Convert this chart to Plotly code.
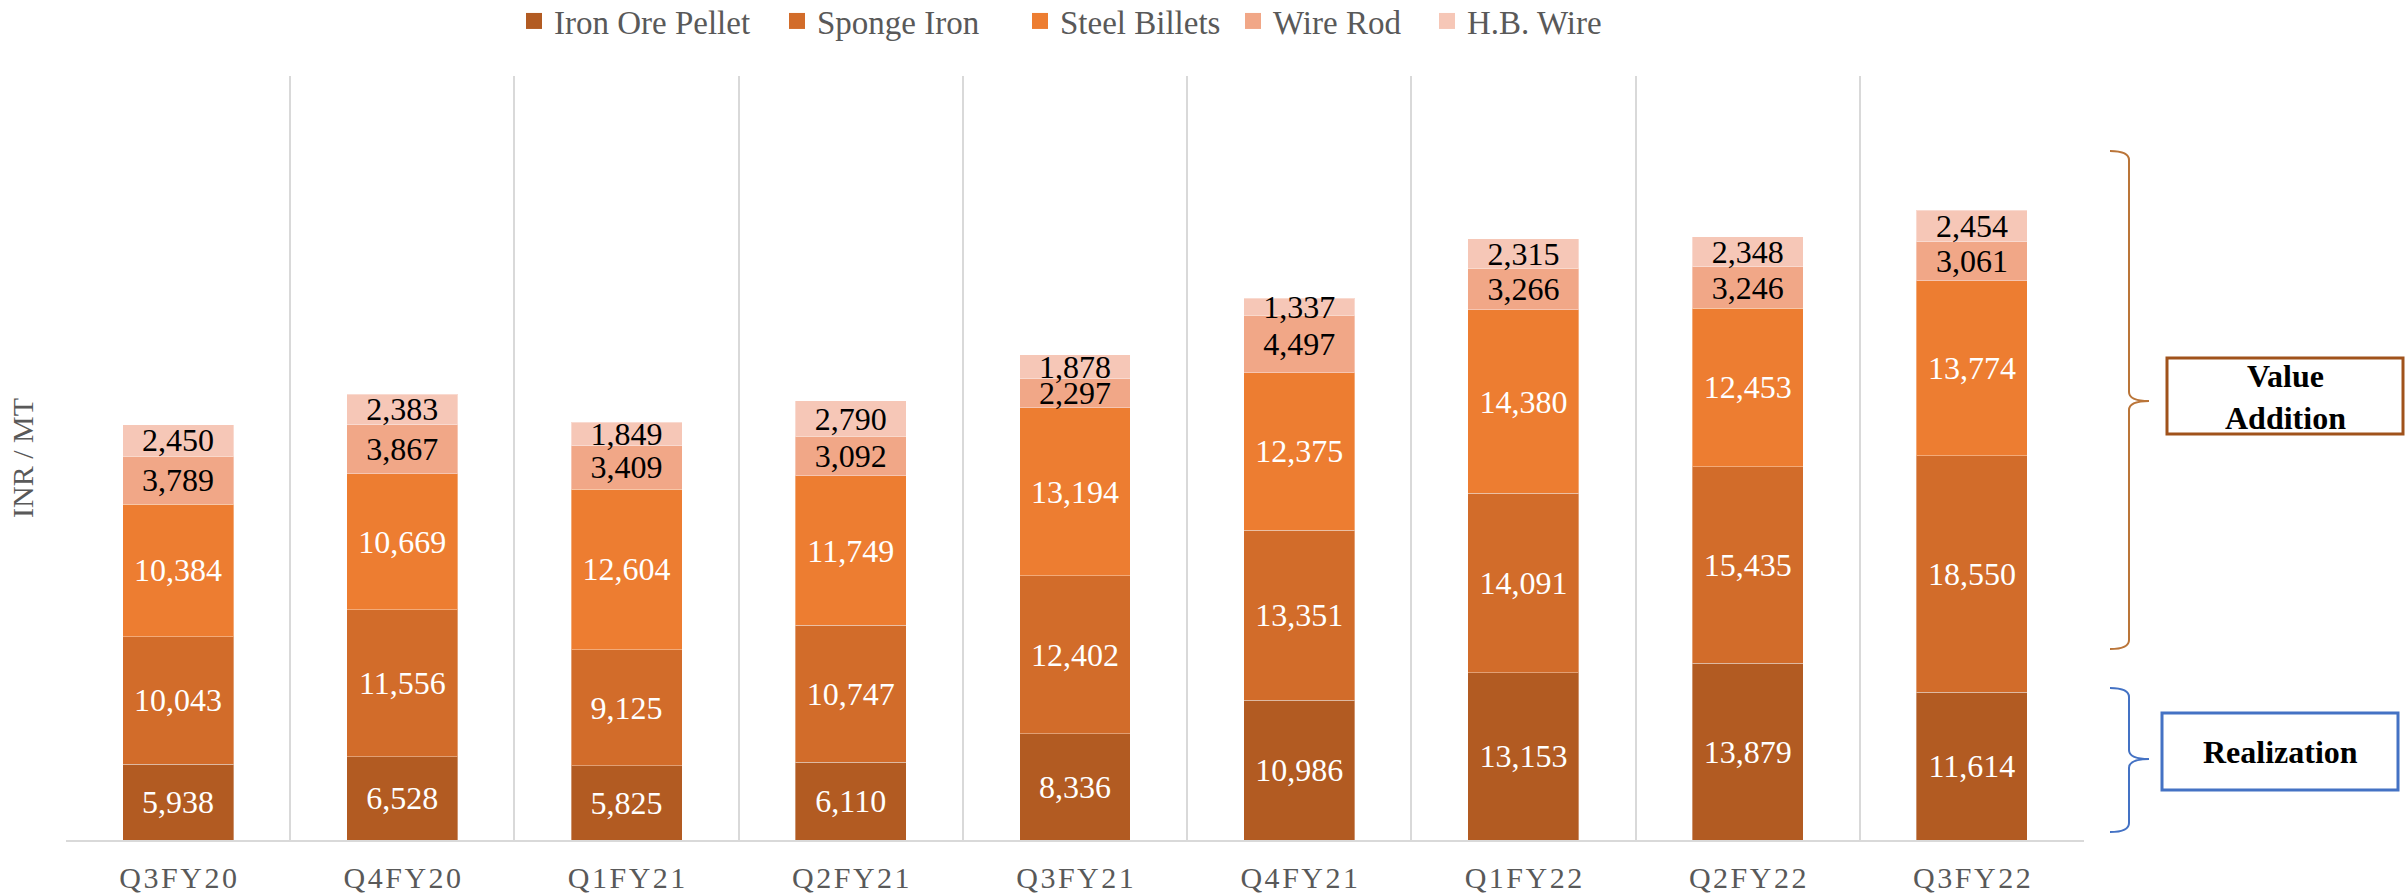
import plotly.graph_objects as go

categories = ["Q3FY20", "Q4FY20", "Q1FY21", "Q2FY21", "Q3FY21", "Q4FY21", "Q1FY22", "Q2FY22", "Q3FY22"]
iron_ore_pellet = [5938, 6528, 5825, 6110, 8336, 10986, 13153, 13879, 11614]
sponge_iron = [10043, 11556, 9125, 10747, 12402, 13351, 14091, 15435, 18550]
steel_billets = [10384, 10669, 12604, 11749, 13194, 12375, 14380, 12453, 13774]
wire_rod = [3789, 3867, 3409, 3092, 2297, 4497, 3266, 3246, 3061]
hb_wire = [2450, 2383, 1849, 2790, 1878, 1337, 2315, 2348, 2454]

series_names = ["Iron Ore Pellet", "Sponge Iron", "Steel Billets", "Wire Rod", "H.B. Wire"]
series_values = [iron_ore_pellet, sponge_iron, steel_billets, wire_rod, hb_wire]
series_colors = ["#B25B22", "#D26C2A", "#ED7D31", "#F1A787", "#F6C7B7"]
label_colors = ["white", "white", "white", "black", "black"]
legend_marker_px = [534, 797, 1040, 1253, 1447]  # legend swatch centres (layout position)

FONT = "Liberation Serif, Times New Roman, serif"
W, H = 2407, 894
L, R, T, B = 66, 2084, 76, 840  # plot area in pixels


def px(x):
    return (x - L) / (R - L)


def py(y):
    return (B - y) / (B - T)


fig = go.Figure()
for name, vals, col, lc in zip(series_names, series_values, series_colors, label_colors):
    fig.add_trace(go.Bar(
        x=categories, y=vals, name=name, showlegend=False,
        marker=dict(color=col, line=dict(color="rgba(255,255,255,0.35)", width=1)),
        texttemplate="%{y:,.0f}", textposition="inside", insidetextanchor="middle",
        textangle=0, textfont=dict(family=FONT, size=32, color=lc),
        hoverinfo="skip",
    ))

legend_layouts = {}
for i, (name, col, mx) in enumerate(zip(series_names, series_colors, legend_marker_px)):
    lg = "legend" if i == 0 else f"legend{i + 1}"
    fig.add_trace(go.Scatter(
        x=[None], y=[None], mode="markers", name=name, legend=lg,
        marker=dict(symbol="square", size=17, color=col),
        hoverinfo="skip",
    ))
    legend_layouts[lg] = dict(
        orientation="h", x=px(mx - 20), xanchor="left", y=py(21), yanchor="middle",
        font=dict(family=FONT, size=33, color="#595959"),
        itemclick=False, itemdoubleclick=False, bgcolor="rgba(0,0,0,0)",
    )

spaced = ["\u200a".join(list(c)) for c in categories]

shapes = []


def brace(x0, x1, x2, y0, ym, y1, color):
    d = 9
    path = (f"M {px(x0)},{py(y0)} Q {px(x1)},{py(y0)} {px(x1)},{py(y0 + d)} "
            f"L {px(x1)},{py(ym - d)} Q {px(x1)},{py(ym)} {px(x2)},{py(ym)} "
            f"Q {px(x1)},{py(ym)} {px(x1)},{py(ym + d)} "
            f"L {px(x1)},{py(y1 - d)} Q {px(x1)},{py(y1)} {px(x0)},{py(y1)}")
    return dict(type="path", xref="paper", yref="paper", path=path,
                line=dict(color=color, width=2))


shapes.append(brace(2110, 2129, 2149, 151, 401, 649, "#BA7539"))
shapes.append(brace(2110, 2129, 2149, 688, 759, 832, "#4472C4"))
shapes.append(dict(type="rect", xref="paper", yref="paper",
                   x0=px(2167), x1=px(2403), y0=py(434), y1=py(358),
                   line=dict(color="#A0521B", width=3)))
shapes.append(dict(type="rect", xref="paper", yref="paper",
                   x0=px(2162), x1=px(2398), y0=py(790), y1=py(713),
                   line=dict(color="#4472C4", width=3)))

annotations = [
    dict(text="<b>Value<br>Addition</b>", xref="paper", yref="paper",
         x=px(2285), y=py(397), showarrow=False,
         font=dict(family=FONT, size=32, color="black"), xanchor="center", yanchor="middle"),
    dict(text="<b>Realization</b>", xref="paper", yref="paper",
         x=px(2280), y=py(752), showarrow=False,
         font=dict(family=FONT, size=32, color="black"), xanchor="center", yanchor="middle"),
]

fig.update_layout(
    width=W, height=H,
    margin=dict(l=L, r=W - R, t=T, b=H - B, pad=0, autoexpand=False),
    paper_bgcolor="white", plot_bgcolor="white",
    barmode="stack", bargap=0.505,
    uniformtext=dict(minsize=32, mode="show"),
    showlegend=True,
    xaxis=dict(type="category", tickmode="array", tickvals=categories, ticktext=spaced,
               tickson="boundaries", ticks="", showgrid=True, gridcolor="#D9D9D9", gridwidth=2,
               showline=True, linecolor="#D9D9D9", linewidth=2, mirror=False,
               tickfont=dict(family=FONT, size=30, color="#595959"),
               ticklabelstandoff=10,
               range=[-0.5, len(categories) - 0.5]),
    yaxis=dict(range=[0, 60000], showgrid=False, zeroline=False, showticklabels=False,
               ticks="", showline=False,
               title=dict(text="INR / MT", standoff=22,
                          font=dict(family=FONT, size=30, color="#595959"))),
    shapes=shapes, annotations=annotations,
    **legend_layouts,
)

fig.write_html("out.html", config={"displayModeBar": False},
               post_script="document.body.style.margin='0';document.body.style.overflow='hidden';")
